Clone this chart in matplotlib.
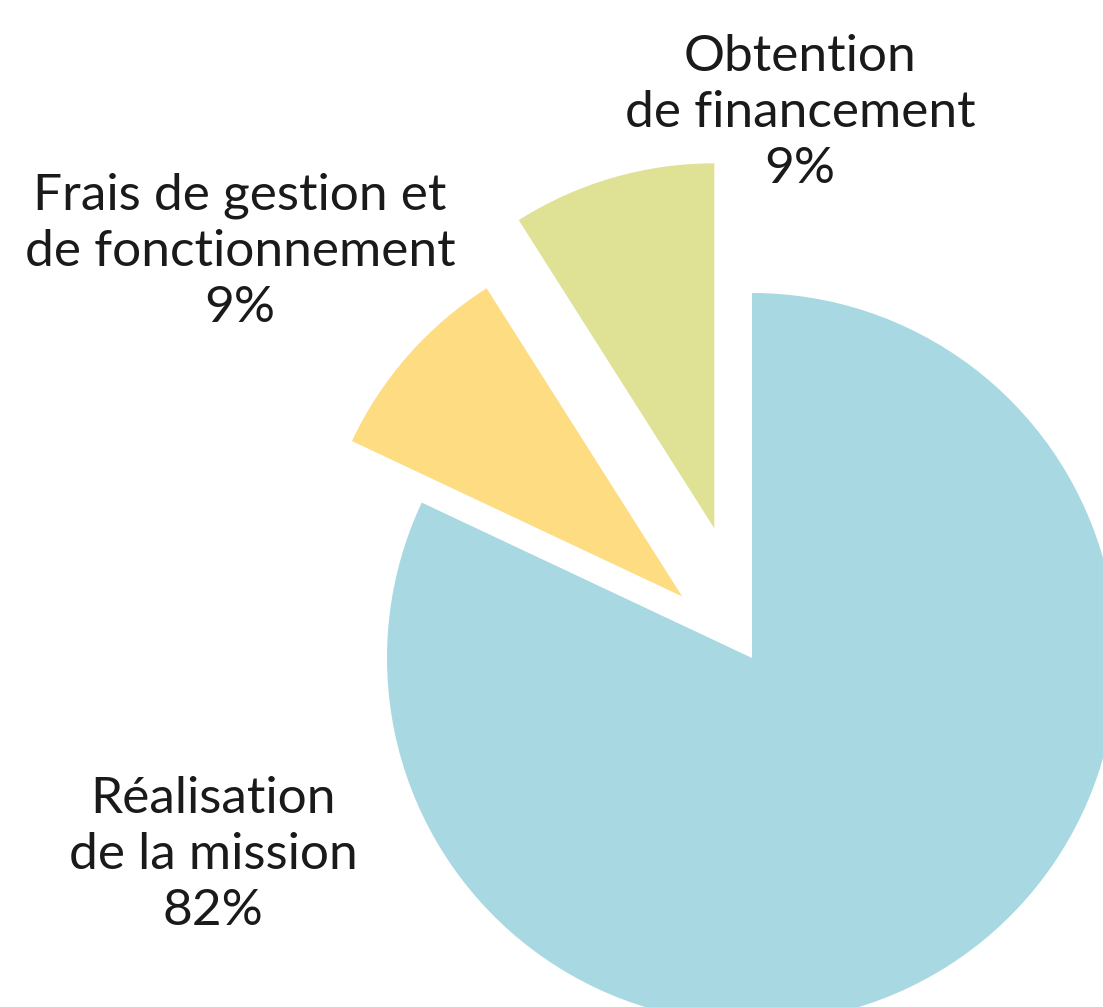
import matplotlib.pyplot as plt

# Données
categories = ['Réalisation\nde la mission', 'Frais de gestion et\nde fonctionnement', 'Obtention\nde financement']
values = [82, 9, 9]
colors = ['#A8D8E2', '#FDDC82', '#DFE194']
explode = [0, 0.255, 0.37]

# positions des étiquettes (coordonnées données)
label_pos = [(-1.477, -0.540), (-1.403, 1.112), (0.132, 1.493)]

plt.rcParams['font.family'] = ['Lato', 'DejaVu Sans']

fig = plt.figure(figsize=(11.03, 10.07), dpi=100)
ax = fig.add_axes([0, 0, 1, 1])

ax.pie(values, colors=colors, explode=explode, startangle=90,
       counterclock=False, radius=1, center=(0, 0),
       wedgeprops=dict(linewidth=0))

for cat, val, (x, y) in zip(categories, values, label_pos):
    ax.text(x, y, f'{cat}\n{val}%', ha='center', va='center',
            fontsize=37, color='#1a1a1a', linespacing=1.27)

ax.set_xlim(-752 / 365, (1103 - 752) / 365)
ax.set_ylim(-(1007 - 658) / 365, 658 / 365)
ax.set_aspect('auto')
ax.axis('off')

plt.savefig('out.png', dpi=100)
